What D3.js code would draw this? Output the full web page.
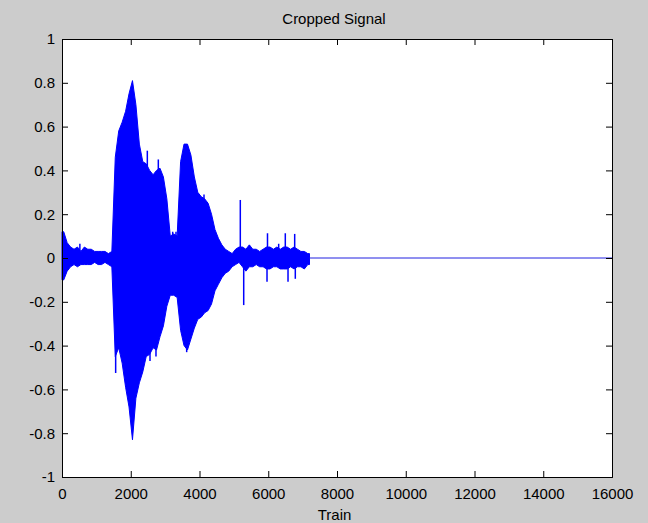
<!DOCTYPE html>
<html>
<head>
<meta charset="utf-8">
<script src="https://cdn.jsdelivr.net/npm/d3@7"></script>
<style>
  html, body { margin: 0; padding: 0; background: #cccccc; }
  svg { display: block; }
  text { font-family: "Liberation Sans", Arial, sans-serif; fill: #000; }
</style>
</head>
<body>
<svg id="chart" width="648" height="523"></svg>
<script>
// ---- data ----
const title = "Cropped Signal";
const xLabel = "Train";
const xTicks = [0, 2000, 4000, 6000, 8000, 10000, 12000, 14000, 16000];
const yTicks = [-1, -0.8, -0.6, -0.4, -0.2, 0, 0.2, 0.4, 0.6, 0.8, 1];
const binSize = 100; // samples per envelope bin
// upper envelope (max sample value) per 100-sample bin, starting at sample 0
const upper = [
  0.12, 0.07, 0.05, 0.04, 0.05, 0.03, 0.05, 0.04, 0.04, 0.03,
  0.03, 0.03, 0.03, 0.02, 0.03, 0.46, 0.58, 0.62, 0.67, 0.75,
  0.81, 0.70, 0.52, 0.44, 0.43, 0.40, 0.38, 0.40, 0.41, 0.37,
  0.27, 0.10, 0.11, 0.10, 0.44, 0.52, 0.52, 0.47, 0.37, 0.30,
  0.28, 0.27, 0.25, 0.20, 0.13, 0.09, 0.06, 0.04, 0.03, 0.02,
  0.04, 0.05, 0.05, 0.04, 0.06, 0.04, 0.04, 0.03, 0.04, 0.05,
  0.05, 0.04, 0.05, 0.04, 0.05, 0.05, 0.04, 0.05, 0.04, 0.03,
  0.03, 0.02
];
// lower envelope (min sample value) per bin
const lower = [
  -0.10, -0.06, -0.04, -0.03, -0.04, -0.03, -0.03, -0.03, -0.03, -0.02,
  -0.03, -0.03, -0.02, -0.03, -0.04, -0.45, -0.41, -0.48, -0.59, -0.68,
  -0.83, -0.64, -0.57, -0.52, -0.45, -0.44, -0.41, -0.42, -0.36, -0.31,
  -0.22, -0.17, -0.17, -0.18, -0.33, -0.40, -0.42, -0.37, -0.32, -0.28,
  -0.27, -0.25, -0.24, -0.21, -0.15, -0.12, -0.09, -0.07, -0.06, -0.04,
  -0.03, -0.02, -0.04, -0.06, -0.04, -0.04, -0.03, -0.04, -0.04, -0.05,
  -0.05, -0.04, -0.04, -0.05, -0.05, -0.05, -0.04, -0.05, -0.04, -0.04,
  -0.05, -0.03
];
// isolated sharp spikes: sample index and peak value
const spikeSamples = [175, 520, 1561, 2269, 2482, 2560, 2734, 2802, 3220, 3316, 3627, 4131,
                      5187, 5286, 5964, 5978, 6303, 6496, 6575, 6769, 6787];
const spikeValues  = [-0.055, 0.065, -0.525, 0.46, 0.49, -0.47, -0.45, 0.45, 0.12, 0.12, -0.43, 0.29,
                      0.265, -0.215, -0.108, 0.113, 0.065, 0.113, -0.108, 0.11, -0.095];
// silent (zero) tail after the cropped part
const tailSamples = [7200, 16000];
const tailValues = [0, 0];

// ---- layout ----
const svg = d3.select("#chart");
const W = 648, H = 523;
const m = { left: 62, right: 36, top: 39, bottom: 46 };
const x = d3.scaleLinear().domain([0, 16000]).range([m.left, W - m.right]);
const y = d3.scaleLinear().domain([-1, 1]).range([H - m.bottom, m.top]);
const blue = "#0000ff";

svg.append("rect").attr("width", W).attr("height", H).attr("fill", "#cccccc");
svg.append("rect")
  .attr("x", x(0)).attr("y", y(1))
  .attr("width", x(16000) - x(0)).attr("height", y(-1) - y(1))
  .attr("fill", "#ffffff");

// ---- signal envelope ----
const bins = upper.map((u, i) => ({ s: i * binSize + binSize / 2, hi: u, lo: lower[i] }));
bins.unshift({ s: 0, hi: upper[0], lo: lower[0] });
bins.push({ s: upper.length * binSize, hi: upper[upper.length - 1], lo: lower[lower.length - 1] });

const area = d3.area()
  .x(d => x(d.s))
  .y0(d => y(d.lo))
  .y1(d => y(d.hi))
  .curve(d3.curveLinear);

svg.append("path")
  .datum(bins)
  .attr("d", area)
  .attr("fill", blue)
  .attr("stroke", blue)
  .attr("stroke-width", 1)
  .attr("stroke-linejoin", "round");

// spikes drawn as thin vertical strokes from the centre line
svg.append("g").selectAll("line")
  .data(spikeSamples.map((s, i) => ({ s, v: spikeValues[i] })))
  .join("line")
  .attr("x1", d => x(d.s)).attr("x2", d => x(d.s))
  .attr("y1", y(0)).attr("y2", d => y(d.v))
  .attr("stroke", blue)
  .attr("stroke-width", 1.5);

const line = d3.line().x(d => x(d[0])).y(d => y(d[1]));
svg.append("path")
  .datum(tailSamples.map((s, i) => [s, tailValues[i]]))
  .attr("d", line)
  .attr("fill", "none")
  .attr("stroke", "#2020e0")
  .attr("stroke-width", 1);

// ---- axes (MATLAB style, ticks inside on all sides) ----
const tickLen = 6;
const fs = 15;
const gB = svg.append("g").attr("transform", `translate(0,${y(-1)})`)
  .call(d3.axisBottom(x).tickValues(xTicks).tickSize(-tickLen).tickPadding(11).tickFormat(d3.format("d")));
const gT = svg.append("g").attr("transform", `translate(0,${y(1)})`)
  .call(d3.axisTop(x).tickValues(xTicks).tickSize(-tickLen).tickFormat(""));
const gL = svg.append("g").attr("transform", `translate(${x(0)},0)`)
  .call(d3.axisLeft(y).tickValues(yTicks).tickSize(-tickLen).tickPadding(7).tickFormat(d => String(+d.toFixed(1))));
const gR = svg.append("g").attr("transform", `translate(${x(16000)},0)`)
  .call(d3.axisRight(y).tickValues(yTicks).tickSize(-tickLen).tickFormat(""));

[gB, gT, gL, gR].forEach(g => {
  g.select(".domain").attr("stroke", "#000").attr("stroke-width", 1);
  g.selectAll(".tick line").attr("stroke", "#000");
  g.selectAll(".tick text").attr("font-size", fs).attr("font-family", "'Liberation Sans', Arial, sans-serif").attr("fill", "#1a1a1a");
});

// ---- labels ----
svg.append("text")
  .attr("x", 334).attr("y", 24)
  .attr("text-anchor", "middle").attr("font-size", fs).attr("fill", "#1a1a1a")
  .text(title);
svg.append("text")
  .attr("x", 334.5).attr("y", 520)
  .attr("text-anchor", "middle").attr("font-size", fs).attr("fill", "#1a1a1a")
  .text(xLabel);
</script>
</body>
</html>
